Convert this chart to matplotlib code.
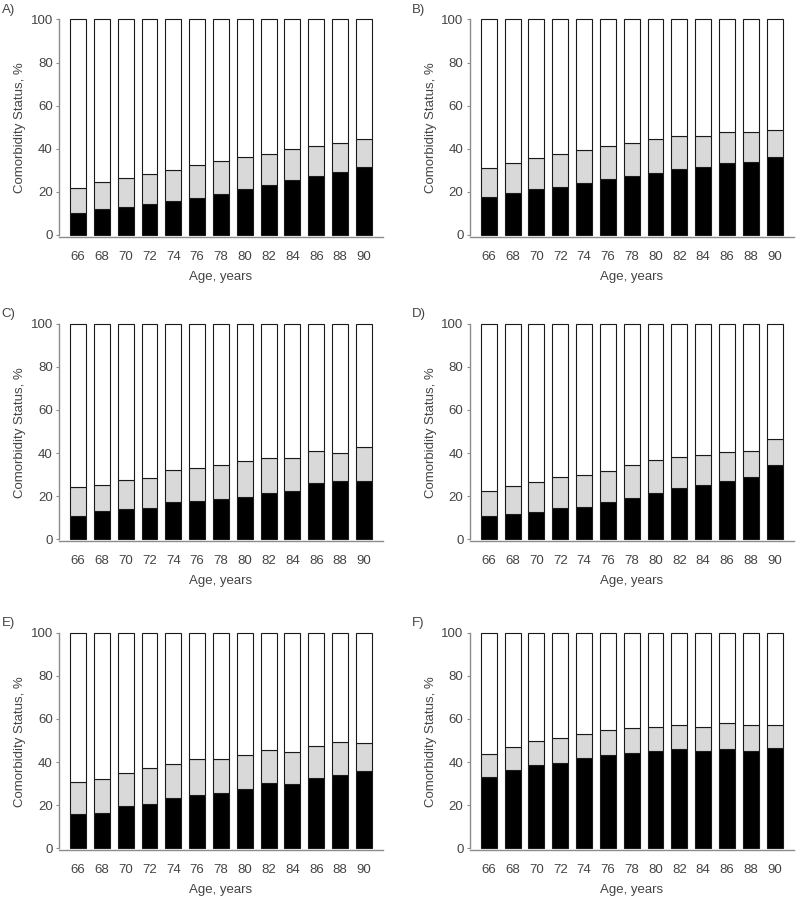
import matplotlib
matplotlib.use("Agg")
import matplotlib.pyplot as plt
import numpy as np

ages = ["66", "68", "70", "72", "74", "76", "78", "80", "82", "84", "86", "88", "90"]
panel_labels = ["A)", "B)", "C)", "D)", "E)", "F)"]

# black segment (bottom) and cumulative top of grey segment, %
black_A = [10.4, 11.9, 13.0, 14.4, 15.8, 17.3, 19.2, 21.2, 23.0, 25.3, 27.2, 29.1, 31.7]
grey_top_A = [21.6, 24.6, 26.3, 28.3, 30.1, 32.5, 34.2, 36.2, 37.7, 39.7, 41.4, 42.8, 44.4]
black_B = [17.5, 19.5, 21.1, 22.3, 24.0, 25.9, 27.4, 28.8, 30.4, 31.5, 33.2, 33.8, 36.1]
grey_top_B = [31.2, 33.5, 35.5, 37.5, 39.2, 41.2, 42.9, 44.7, 46.0, 46.0, 47.6, 47.9, 48.8]
black_C = [11.0, 13.0, 14.2, 14.4, 17.2, 17.6, 18.9, 19.5, 21.4, 22.4, 26.0, 27.1, 27.2]
grey_top_C = [24.1, 25.2, 27.4, 28.5, 32.0, 33.0, 34.4, 36.2, 37.5, 37.6, 40.9, 39.9, 42.6]
black_D = [10.7, 11.8, 12.7, 14.6, 15.2, 17.2, 19.1, 21.6, 23.9, 25.3, 27.1, 28.7, 34.6]
grey_top_D = [22.5, 24.8, 26.7, 29.0, 29.9, 31.5, 34.3, 36.6, 38.0, 38.9, 40.3, 41.1, 46.4]
black_E = [15.8, 16.5, 19.6, 20.7, 23.5, 24.6, 25.5, 27.5, 30.1, 30.0, 32.8, 34.2, 35.9]
grey_top_E = [30.6, 32.1, 34.8, 37.1, 39.3, 41.3, 41.3, 43.4, 45.4, 44.7, 47.3, 49.1, 48.7]
black_F = [33.1, 36.5, 38.6, 39.6, 41.7, 43.4, 44.2, 45.0, 46.1, 45.0, 46.1, 45.3, 46.7]
grey_top_F = [43.9, 47.1, 49.9, 51.3, 52.9, 54.9, 55.8, 56.4, 57.0, 56.4, 58.0, 57.3, 57.3]

panels = [(black_A, grey_top_A), (black_B, grey_top_B), (black_C, grey_top_C),
          (black_D, grey_top_D), (black_E, grey_top_E), (black_F, grey_top_F)]

plt.rcParams['font.family'] = ['Liberation Sans', 'DejaVu Sans']
txt_color = '#444444'
spine_color = '#8c8c8c'

fig = plt.figure(figsize=(7.97, 9.0), dpi=100)

lefts = [0.0740, 0.5893]
bottoms = [0.7370, 0.3989, 0.0556]
width = 0.4065
height = 0.2414

x = np.arange(len(ages))
for i, (blk, gtop) in enumerate(panels):
    r, c = divmod(i, 2)
    ax = fig.add_axes([lefts[c], bottoms[r], width, height])
    blk = np.array(blk)
    gtop = np.array(gtop)
    grey = gtop - blk
    white = 100 - gtop
    kw = dict(width=0.67, edgecolor='#1a1a1a', linewidth=0.8, clip_on=False, zorder=3)
    ax.bar(x, blk, color='black', **kw)
    ax.bar(x, grey, bottom=blk, color='#d9d9d9', **kw)
    ax.bar(x, white, bottom=gtop, color='white', **kw)
    ax.set_xlim(-0.8, 12.8)
    ax.set_ylim(-0.8, 100)
    ax.set_xticks(x)
    ax.set_xticklabels(ages)
    ax.set_yticks([0, 20, 40, 60, 80, 100])
    for s in ['top', 'right']:
        ax.spines[s].set_visible(False)
    for s in ['left', 'bottom']:
        ax.spines[s].set_color(spine_color)
        ax.spines[s].set_linewidth(1.0)
    ax.spines['left'].set_bounds(0, 100)
    ax.tick_params(axis='x', length=0, pad=10, labelsize=9.5, labelcolor=txt_color)
    ax.tick_params(axis='y', length=2.5, width=0.8, color=spine_color, pad=2,
                   labelsize=9.5, labelcolor=txt_color)
    ax.set_xlabel('Age, years', fontsize=9.5, color=txt_color, labelpad=6)
    ax.set_ylabel('Comorbidity Status, %', fontsize=9.5, color=txt_color, labelpad=3)
    ax.set_facecolor('none')
    fig.text(lefts[c] - 0.072, bottoms[r] + height + 0.0105, panel_labels[i],
             fontsize=9.5, color=txt_color, ha='left', va='center')

fig.savefig('out.png', dpi=100)
